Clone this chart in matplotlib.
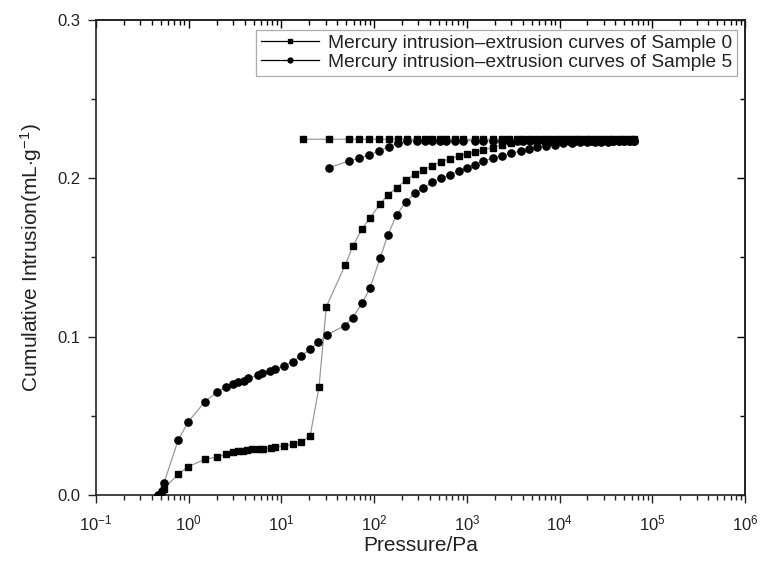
import numpy as np
import matplotlib.pyplot as plt
from matplotlib.lines import Line2D
from matplotlib.ticker import LogLocator, MultipleLocator, NullFormatter, FixedLocator

plt.rcParams['font.family'] = ['Liberation Sans', 'DejaVu Sans']
plt.rcParams['mathtext.fontset'] = 'custom'
plt.rcParams['mathtext.rm'] = 'Liberation Sans'
plt.rcParams['mathtext.it'] = 'Liberation Sans'

# Sample 0 : intrusion (rising) branch
p0_in = [0.50, 0.54, 0.77, 0.99, 1.5, 2.0, 2.5, 3.0, 3.4, 3.85, 4.3, 4.8, 5.75, 6.25,
         7.8, 8.5, 10.6, 13.2, 16.4, 20.4, 25.4, 30.5, 48.5, 58.7, 74, 90, 116, 140,
         175, 221, 275, 339, 422, 525, 660, 822, 1000, 1230, 1510, 1900, 2400, 3020,
         3800, 4700, 5750, 7100, 8900, 11000, 13500, 16600, 20000, 24000, 28200,
         33100, 38000, 43600, 50100, 56200, 63000]
v0_in = [0.000, 0.004, 0.013, 0.018, 0.0225, 0.024, 0.0257, 0.027, 0.0276, 0.028,
         0.0284, 0.0289, 0.029, 0.0292, 0.030, 0.0303, 0.031, 0.032, 0.0337, 0.0372,
         0.068, 0.119, 0.145, 0.157, 0.168, 0.175, 0.1836, 0.1895, 0.194, 0.199,
         0.2028, 0.2053, 0.208, 0.2106, 0.2123, 0.2142, 0.2155, 0.2166, 0.218,
         0.2194, 0.2212, 0.2226, 0.2236, 0.2241, 0.2243, 0.2244, 0.2245, 0.2245,
         0.2245, 0.2245, 0.2245, 0.2245, 0.2245, 0.2245, 0.2245, 0.2245, 0.2245,
         0.2245, 0.2245]

# Sample 0 : extrusion branch (high -> low pressure)
p0_ex = [63100, 57500, 50100, 43600, 38000, 33100, 28800, 25100, 21900, 19100, 16600,
         14500, 12600, 11000, 9330, 7940, 6760, 5750, 4790, 4070, 3470, 2820, 2400,
         1900, 1480, 1230, 916, 741, 603, 513, 417, 354, 287, 228, 182, 145, 113,
         88.1, 68.7, 53.7, 32.9, 17.0]
v0_ex = [0.2247] * len(p0_ex)

# Sample 5 : intrusion branch
p5_in = [0.47, 0.51, 0.54, 0.77, 0.99, 1.5, 2.0, 2.5, 3.0, 3.4, 3.9, 4.4, 5.6, 6.1,
         7.5, 8.5, 10.6, 13.2, 16.2, 20.4, 25.1, 30.8, 48.5, 58.7, 74, 90, 116, 140,
         175, 221, 275, 339, 422, 525, 660, 822, 1000, 1230, 1510, 1900, 2400, 3020,
         3800, 4700, 5750, 7100, 8900, 11000, 13500, 16600, 20000, 24000, 28200,
         33100, 38000, 43600, 50100, 56200, 63000]
v5_in = [0.000, 0.0027, 0.0074, 0.0347, 0.0463, 0.059, 0.0649, 0.068, 0.070, 0.0712,
         0.0722, 0.0737, 0.0758, 0.0769, 0.0783, 0.0794, 0.0815, 0.0842, 0.0878,
         0.092, 0.0964, 0.101, 0.107, 0.112, 0.121, 0.1305, 0.1495, 0.164, 0.177,
         0.1853, 0.1906, 0.1937, 0.1975, 0.200, 0.2021, 0.2047, 0.2064, 0.2087,
         0.211, 0.2127, 0.2142, 0.2158, 0.2173, 0.2186, 0.2196, 0.2205, 0.2213,
         0.222, 0.2224, 0.2227, 0.223, 0.2231, 0.2232, 0.2232, 0.2233, 0.2233,
         0.2233, 0.2233, 0.2233]

# Sample 5 : extrusion branch
p5_ex = [63100, 57500, 50100, 43600, 38000, 33100, 28800, 25100, 21900, 19100, 16600,
         14500, 12600, 11000, 9330, 7940, 6760, 5750, 4790, 4070, 3470, 2820, 2400,
         1900, 1480, 1230, 916, 741, 603, 513, 417, 354, 287, 228, 182, 145, 113,
         88.1, 68.7, 53.7, 32.9]
v5_ex = [0.2238, 0.2238, 0.2238, 0.2238, 0.2238, 0.2238, 0.2238, 0.2238, 0.2238,
         0.2238, 0.2238, 0.2238, 0.2238, 0.2238, 0.2238, 0.2238, 0.2238, 0.2238,
         0.2238, 0.2238, 0.2238, 0.2238, 0.2238, 0.2238, 0.2238, 0.2238, 0.2238,
         0.2238, 0.2238, 0.2238, 0.2238, 0.2238, 0.2238, 0.2236, 0.2222, 0.220,
         0.2173, 0.2148, 0.2127, 0.211, 0.2068]

x_major = [1e-1, 1e0, 1e1, 1e2, 1e3, 1e4, 1e5, 1e6]
labels = ['Mercury intrusion\u2013extrusion curves of Sample 0',
          'Mercury intrusion\u2013extrusion curves of Sample 5']

fig = plt.figure(figsize=(7.61, 5.73), dpi=100)
ax = fig.add_axes([96 / 761, 1 - 495 / 573, 649 / 761, 475 / 573])

line_c = '#999999'
ms = 4.6
ax.plot(p0_in + p0_ex, v0_in + v0_ex, color=line_c, lw=0.9, marker='s', ms=ms,
        mfc='black', mec='black', zorder=3)
ax.plot(p5_in + p5_ex, v5_in + v5_ex, color=line_c, lw=0.9, marker='o', ms=ms + 0.6,
        mfc='black', mec='black', zorder=3)

ax.set_xscale('log')
ax.set_xlim(0.1, 1e6)
ax.set_ylim(0, 0.3)
ax.xaxis.set_major_locator(FixedLocator(x_major))
ax.xaxis.set_minor_locator(LogLocator(base=10, subs=np.arange(2, 10), numticks=20))
ax.xaxis.set_minor_formatter(NullFormatter())
ax.yaxis.set_major_locator(MultipleLocator(0.1))
ax.yaxis.set_minor_locator(MultipleLocator(0.05))
ax.yaxis.set_major_formatter(plt.FuncFormatter(lambda v, p: '%.1f' % v))

for s in ax.spines.values():
    s.set_linewidth(1.2)
    s.set_color('#222222')

ax.tick_params(which='both', direction='out', labelsize=12, colors='#222222',
               width=1.0, top=False, right=False, pad=5)
ax.tick_params(which='major', length=6)
ax.tick_params(which='minor', length=3.5)
ax.tick_params(axis='x', pad=7)

# mirrored inward ticks on top and right
axt = ax.secondary_xaxis('top')
axt.xaxis.set_major_locator(FixedLocator(x_major))
axt.xaxis.set_minor_locator(LogLocator(base=10, subs=np.arange(2, 10), numticks=20))
axt.xaxis.set_major_formatter(NullFormatter())
axt.xaxis.set_minor_formatter(NullFormatter())
axt.tick_params(which='both', direction='in', labeltop=False, width=1.0)
axt.tick_params(which='major', length=6)
axt.tick_params(which='minor', length=3.5)
axr = ax.secondary_yaxis('right')
axr.yaxis.set_major_locator(MultipleLocator(0.1))
axr.yaxis.set_minor_locator(MultipleLocator(0.05))
axr.yaxis.set_major_formatter(NullFormatter())
axr.yaxis.set_minor_formatter(NullFormatter())
axr.tick_params(which='both', direction='in', labelright=False, width=1.0)
axr.tick_params(which='major', length=6)
axr.tick_params(which='minor', length=3.5)
for a in (axt, axr):
    for s in a.spines.values():
        s.set_linewidth(1.2)
        s.set_color('#222222')

ax.set_xlabel('Pressure/Pa', fontsize=15, color='#222222', labelpad=2)
ax.set_ylabel('Cumulative Intrusion(mL$\\cdot$g$^{-1}$)', fontsize=15,
              color='#222222', labelpad=10)

handles = [
    Line2D([], [], color='black', lw=0.9, marker='s', ms=3.5, mfc='black', mec='black'),
    Line2D([], [], color='black', lw=0.9, marker='o', ms=3.5, mfc='black', mec='black'),
]
leg = ax.legend(handles, labels, loc='upper right', bbox_to_anchor=(0.988, 0.979),
                borderaxespad=0, fontsize=13.8, frameon=True, fancybox=False,
                handlelength=3.0, handletextpad=0.5, labelspacing=0.08,
                borderpad=0.25, labelcolor='#222222')
leg.get_frame().set_edgecolor('#999999')
leg.get_frame().set_linewidth(0.9)

fig.savefig('out.png', dpi=100)
